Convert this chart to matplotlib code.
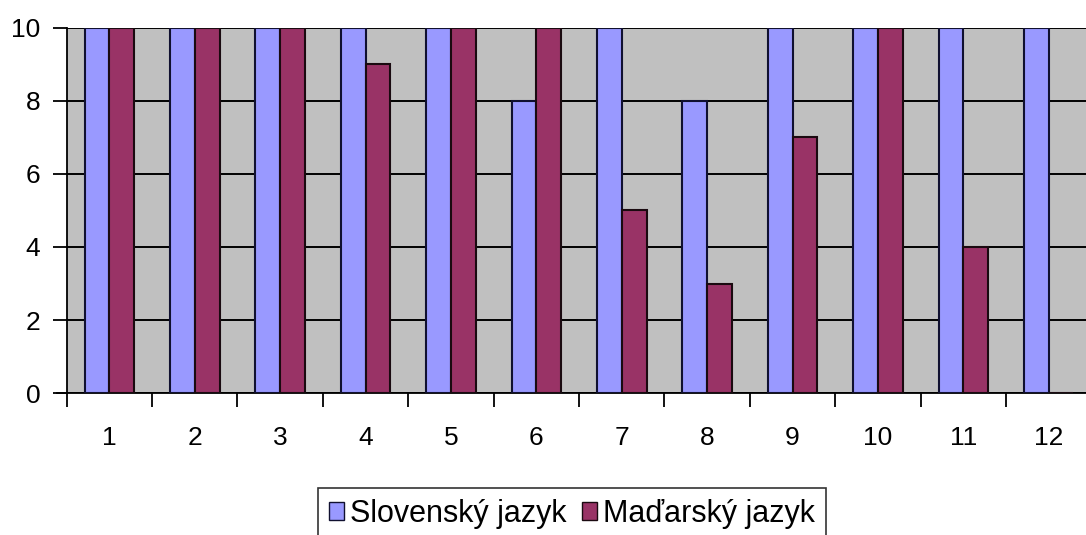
import numpy as np
import matplotlib.pyplot as plt
from matplotlib.patches import Patch

# results per question
categories = ['1', '2', '3', '4', '5', '6', '7', '8', '9', '10', '11', '12']
slovensky = [10, 10, 10, 10, 10, 8, 10, 8, 10, 10, 10, 10]
madarsky = [10, 10, 10, 9, 10, 10, 5, 3, 7, 10, 4, 0]

BLUE = '#9999FF'
WINE = '#993366'
EDGE = '#101030'

plt.rcParams['font.family'] = ['Liberation Sans', 'DejaVu Sans']

fig = plt.figure(figsize=(10.86, 5.35), dpi=100)
ax = fig.add_axes([0.0614, 0.2654, 0.9436, 0.6823])
ax.set_facecolor('#C0C0C0')

x = np.arange(len(categories))
w = 0.29
ax.bar(x - w / 2, slovensky, w, color=BLUE, edgecolor=EDGE, linewidth=1.5, zorder=3)
ax.bar(x + w / 2, madarsky, w, color=WINE, edgecolor='#1a0a10', linewidth=1.5, zorder=3)

ax.set_xlim(-0.5, len(categories) - 0.5)
ax.set_ylim(0, 10)
ax.set_yticks(range(0, 11, 2))
ax.yaxis.grid(True, color='black', linewidth=1.4, zorder=1)
ax.set_axisbelow(True)

# category labels in the middle, ticks on the boundaries
ax.set_xticks(x)
ax.set_xticklabels(categories)
ax.set_xticks(np.arange(len(categories) + 1) - 0.5, minor=True)
ax.tick_params(axis='x', which='major', length=0, pad=24, labelsize=19)
ax.tick_params(axis='x', which='minor', length=10, width=1.3, direction='out')
ax.tick_params(axis='y', length=10, width=1.3, pad=9, labelsize=19)

for s in ['top', 'right']:
    ax.spines[s].set_visible(False)
ax.spines['left'].set_linewidth(1.3)
ax.spines['bottom'].set_linewidth(1.3)
ax.spines['bottom'].set_bounds(-0.615, len(categories) - 0.5)

handles = [Patch(facecolor=BLUE, edgecolor=EDGE), Patch(facecolor=WINE, edgecolor='#1a0a10')]
leg = fig.legend(handles, ['Slovenský jazyk', 'Maďarský jazyk'], loc='upper center',
                 bbox_to_anchor=(572 / 1086, 1 - 488 / 535), ncol=2, fontsize=22,
                 frameon=True, fancybox=False, edgecolor='black', handlelength=0.5,
                 handleheight=0.5, handletextpad=0.2, columnspacing=0.5,
                 borderpad=0.35, borderaxespad=0)
leg.get_frame().set_linewidth(1.2)

fig.savefig('out.png', dpi=100)
